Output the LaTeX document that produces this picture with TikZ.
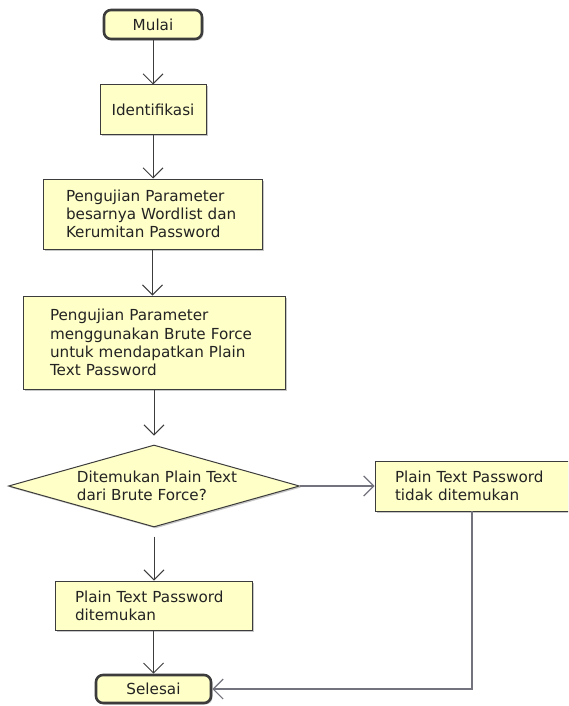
\documentclass[tikz,border=0pt]{standalone}
\usepackage{fontspec}
\setmainfont{DejaVu Sans}
\usetikzlibrary{arrows.meta,shapes.geometric,shadows,calc}
\definecolor{boxfill}{RGB}{255,255,200}
\definecolor{boxline}{RGB}{60,60,60}
\definecolor{txt}{RGB}{35,35,35}
\definecolor{arrgray}{RGB}{115,115,125}
\tikzset{
  base/.style={draw=boxline, fill=boxfill, line width=1pt, text=txt,
    font=\fontsize{15.2}{18.3}\selectfont,
    drop shadow={shadow xshift=1.5pt, shadow yshift=-1.5pt, fill=black!22, opacity=1}},
  term/.style={base, rounded corners=7pt, line width=2.6pt, align=center, inner sep=0pt},
  proc/.style={base, rectangle, align=left, inner ysep=0pt},
  dec/.style={base, diamond, inner sep=0pt, aspect=3.5},
  lbl/.style={text=txt, font=\fontsize{15.2}{18.3}\selectfont, align=left, inner sep=0pt},
  arr/.style={draw=boxline, line width=1pt, -{Straight Barb[length=10pt,width=20pt,line width=1pt]}},
  arrg/.style={draw=arrgray, line width=1.5pt, -{Straight Barb[length=10pt,width=20pt,line width=1.2pt]}}
}
\begin{document}
\begin{tikzpicture}[x=1pt,y=-1pt]
\useasboundingbox (0,0) rectangle (568,706);
\clip (0,0) rectangle (568,706);
\node[term, minimum width=98pt, minimum height=29pt] (start) at (153,24.5) {Mulai};
\node[proc, minimum width=106pt, minimum height=49pt, align=center] (ident) at (153,109.5) {Identifikasi};
\node[proc, minimum width=219pt, minimum height=70pt, inner xsep=23pt, text width=173pt] (p1) at (152.5,214)
  {Pengujian Parameter\\besarnya Wordlist dan\\Kerumitan Password};
\node[proc, minimum width=262pt, minimum height=93pt, inner xsep=27pt, text width=208pt] (p2) at (154,342.5)
  {Pengujian Parameter\\menggunakan Brute Force\\untuk mendapatkan Plain\\Text Password};
\node[dec, minimum width=291pt, minimum height=82pt] (dec) at (154,486) {};
\node[lbl] (dect) at (157,486) {Ditemukan Plain Text\\dari Brute Force?};
\node[proc, minimum width=200pt, minimum height=50pt, inner xsep=20pt, text width=160pt] (nf) at (475,486)
  {Plain Text Password\\tidak ditemukan};
\node[proc, minimum width=197pt, minimum height=49pt, inner xsep=20pt, text width=157pt] (found) at (153.5,605.5)
  {Plain Text Password\\ditemukan};
\node[term, minimum width=115pt, minimum height=28pt] (end) at (153.5,689) {Selesai};
\coordinate (nfdown) at (472,511);
\draw[arr] (start.south) -- (ident.north);
\draw[arr] (ident.south) -- (ident.south |- p1.north);
\draw[arr] (p1.south) -- (p1.south |- p2.north);
\draw[arr, shorten >=9pt] (p2.south) -- (p2.south |- dec.north);
\draw[arrg] (dec.east) -- (nf.west |- dec.east);
\draw[arr] ([yshift=-9pt]dec.south) -- (dec.south |- found.north);
\draw[arr] (found.south) -- (found.south |- end.north);
\draw[arrg] (nfdown) -- (nfdown |- end.east) -- (end.east);
\end{tikzpicture}
\end{document}
